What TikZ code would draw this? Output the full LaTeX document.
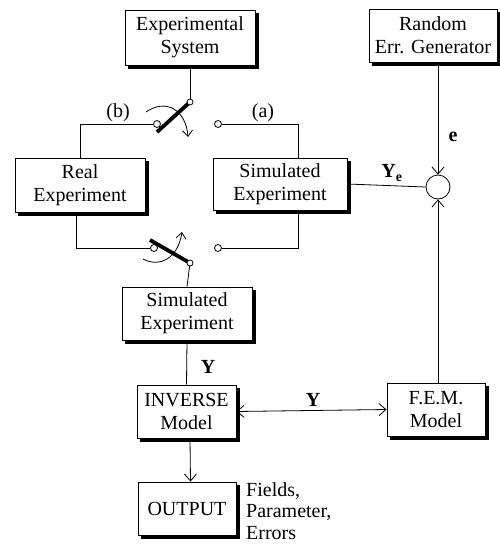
\documentclass[tikz,border=0pt]{standalone}
\usepackage{fontspec}
\setmainfont{Liberation Serif}
\usetikzlibrary{arrows.meta,calc}
\pgfdeclarelayer{background}
\pgfsetlayers{background,main}
\newcommand{\myshd}[1]{\begin{pgfonlayer}{background}\fill[black] ($(#1.south west)+(3.5,3.5)$) rectangle ($(#1.north east)+(3.5,3.5)$);\end{pgfonlayer}}
\begin{document}
\begin{tikzpicture}[x=1pt,y=-1pt,
 blk/.style={draw,fill=white,line width=0.8pt,inner sep=0pt,align=center,
   font=\fontsize{20}{23}\selectfont},
 conn/.style={line width=0.8pt},
 arr/.style={conn,-{Straight Barb[length=7pt,width=12pt]}},
 darr/.style={conn,{Straight Barb[length=7pt,width=12pt]}-{Straight Barb[length=7pt,width=12pt]}},
 contact/.style={circle,draw,fill=white,inner sep=0pt,minimum size=7pt,line width=0.8pt},
 lever/.style={line width=3.8pt},
 lbl/.style={font=\fontsize{20}{23}\selectfont,inner sep=0pt},
 sumc/.style={circle,draw,fill=white,inner sep=0pt,minimum size=24pt,line width=0.8pt}
]
\useasboundingbox (0,0) rectangle (499,544);

% blocks
\node[blk,minimum width=130pt,minimum height=55pt] (expsys) at (190,37.5) {Experimental\\System};
\node[blk,minimum width=128pt,minimum height=53pt] (rand) at (433,35.5) {Random\\Err. Generator};
\node[blk,minimum width=130pt,minimum height=54pt] (realexp) at (80,185) {Real\\Experiment};
\node[blk,minimum width=134pt,minimum height=52pt] (simexp) at (280,184) {Simulated\\Experiment};
\node[blk,minimum width=130pt,minimum height=53pt] (simexp2) at (187,313.5) {Simulated\\Experiment};
\node[blk,minimum width=99pt,minimum height=53pt] (inv) at (186.5,411.5) {INVERSE\\Model};
\node[blk,minimum width=98pt,minimum height=53pt] (fem) at (436,409.5) {F.E.M.\\Model};
\node[blk,minimum width=98pt,minimum height=53pt] (out) at (187,508.5) {OUTPUT};
\node[lbl,anchor=west,align=left,font=\fontsize{20}{21.5}\selectfont] (outtxt) at (246,511) {Fields,\\Parameter,\\Errors};
\myshd{expsys}\myshd{rand}\myshd{realexp}\myshd{simexp}\myshd{simexp2}\myshd{inv}\myshd{fem}\myshd{out}

% summing junction
\node[sumc] (sum) at (438,187) {};

% switch contacts
\coordinate (p1) at (190,102);
\coordinate (p2) at (190,263);
\coordinate (l1) at (157,132);
\coordinate (l2) at (150,240);

% connectors
\draw[conn] (expsys.south) -- (p1);
\draw[conn] (p2) -- (simexp2.north);
\draw[conn] (simexp2.south) -- (inv.north);
\draw[lever] (p1) -- (l1);
\draw[lever] (p2) -- (l2);

\node[contact] (cb) at (157,124) {};
\node[contact] (ca) at (218,124) {};
\node[contact] (cb2) at (154,248) {};
\node[contact] (ca2) at (218,248) {};
\node[contact,minimum size=6pt] (pv1) at (p1) {};
\node[contact,minimum size=6pt] (pv2) at (p2) {};

\draw[conn] (cb.west) -| (realexp.north);
\draw[conn] (ca.east) -| ([xshift=18pt]simexp.north);
\draw[conn] ([xshift=-4pt]realexp.south) |- (cb2.west);
\draw[conn] (ca2.east) -| ([xshift=18pt]simexp.south);

\draw[conn] (simexp.east) -- (sum.west);
\draw[arr] ([xshift=5pt]rand.south) -- (sum.north);
\draw[arr] ([xshift=2pt]fem.north) -- (sum.south);
\draw[darr] (inv.east) -- (fem.west);
\draw[arr] ([xshift=3.5pt]inv.south) -- ([xshift=3.5pt]out.north);

% switch motion arrows
\draw[conn,-{Straight Barb[length=6pt,width=10pt]}] (146,112) .. controls (166,98) and (186,110) .. (188,137);
\draw[conn,-{Straight Barb[length=6pt,width=10pt]}] (143,259) .. controls (160,268) and (178,258) .. (182,232);

% labels
\node[lbl] (lb) at (118,113) {(b)};
\node[lbl] (la) at (263,113) {(a)};
\node[lbl] (lye) at (392,173) {$\mathbf{Y_e}$};
\node[lbl] (le) at (453,137) {$\mathbf{e}$};
\node[lbl] (ly1) at (208,367) {$\mathbf{Y}$};
\node[lbl] (ly2) at (313,400) {$\mathbf{Y}$};
\end{tikzpicture}
\end{document}
